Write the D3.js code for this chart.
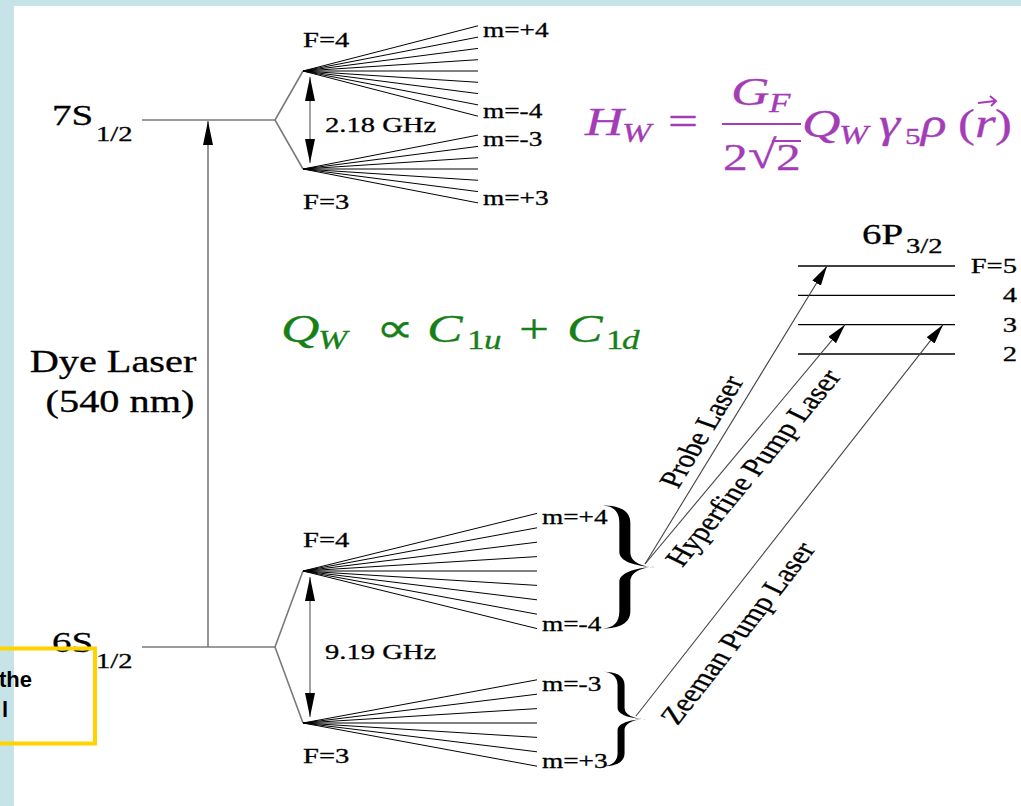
<!DOCTYPE html>
<html>
<head>
<meta charset="utf-8">
<script src="https://cdn.jsdelivr.net/npm/d3@7"></script>
<style>
  body { margin: 0; background: #fff; }
  svg { display: block; }
</style>
</head>
<body>
<svg id="chart" width="1021" height="806"></svg>
<script>
// level data
var stateNames = ["7S", "6S"];
var stateSubs = ["1/2", "1/2"];
var hfsSplit = ["2.18 GHz", "9.19 GHz"];
var mF4 = [4, 3, 2, 1, 0, -1, -2, -3, -4];
var mF3 = [-3, -2, -1, 0, 1, 2, 3];
var pF = [5, 4, 3, 2];
var laserNames = ["Probe Laser", "Hyperfine Pump Laser", "Zeeman Pump Laser"];
var laserFromF = [4, 4, 3];
var laserToF = [5, 3, 3];

var SX = 1.3; // picture is stretched sideways
var serif = "Liberation Serif, Times New Roman, serif";
var purple = "#a33cb6", green = "#177f17";

var svg = d3.select("#chart");

// scales
var yState = d3.scaleOrdinal().domain(stateNames).range([120, 647]);
var hfOffset = d3.scaleOrdinal().domain(stateNames).range([49, 76]);
var mStep = d3.scaleOrdinal().domain(stateNames).range([11.3, 14.4]);
var fanEnd = d3.scaleOrdinal().domain(stateNames).range([478, 537]);
var yP = d3.scalePoint().domain(pF).range([266, 354]);
var xLaserEnd = d3.scaleOrdinal().domain(laserNames).range([827, 845, 943]);

// frame
svg.append("rect").attr("width", 1021).attr("height", 806).attr("fill", "#fff");
svg.append("rect").attr("width", 1021).attr("height", 6).attr("fill", "#c6e4e8");
svg.append("rect").attr("width", 14).attr("height", 806).attr("fill", "#c6e4e8");

var defs = svg.append("defs");
function marker(id, len, half) {
  defs.append("marker")
    .attr("id", id)
    .attr("viewBox", "0 " + (-half) + " " + len + " " + (2 * half))
    .attr("refX", len).attr("refY", 0)
    .attr("markerWidth", len).attr("markerHeight", 2 * half)
    .attr("markerUnits", "userSpaceOnUse")
    .attr("orient", "auto-start-reverse")
    .append("path")
    .attr("d", "M0," + (-half) + "L" + len + ",0L0," + half + "Z")
    .attr("fill", "#000");
}
marker("big", 24, 5);
marker("small", 20, 5);

function label(s, x, y, size, opts) {
  opts = opts || {};
  var sx = opts.flat ? 1 : SX;
  var t = svg.append("text")
    .attr("transform", "translate(" + x + "," + y + ") scale(" + sx + ",1)" + (opts.rot ? " rotate(" + opts.rot + ")" : ""))
    .attr("font-family", opts.family || serif)
    .attr("font-size", size)
    .attr("fill", opts.fill || "#000")
    .text(s);
  if (!opts.flat) t.attr("stroke", opts.fill || "#000").attr("stroke-width", 0.3);
  if (opts.italic) t.attr("font-style", "italic");
  if (opts.anchor) t.attr("text-anchor", opts.anchor);
  if (opts.dy) t.attr("dy", opts.dy);
  if (opts.weight) t.attr("font-weight", opts.weight);
  return t;
}

function mText(m) { return m > 0 ? "m=+" + m : "m=" + m; }

// S levels with hyperfine and Zeeman fans
var fanEnds = {};
stateNames.forEach(function (s, i) {
  var y = yState(s), off = hfOffset(s);
  svg.append("line").attr("x1", 142).attr("x2", 275).attr("y1", y).attr("y2", y)
    .attr("stroke", "#7a7a7a").attr("stroke-width", 1.6);
  svg.append("path").attr("d", "M303," + (y - off) + "L275," + y + "L303," + (y + off))
    .attr("fill", "none").attr("stroke", "#7a7a7a").attr("stroke-width", 1.6);
  label(s, 52, y + 5, 30);
  label(stateSubs[i], 96, y + 21, 22);

  [[4, mF4, -1], [3, mF3, 1]].forEach(function (f) {
    var oy = y + f[2] * off;
    var ends = f[1].map(function (m) { return oy + f[2] * m * mStep(s); });
    fanEnds[s + f[0]] = ends;
    svg.append("g").selectAll("line").data(ends).enter().append("line")
      .attr("x1", 303).attr("y1", oy)
      .attr("x2", fanEnd(s)).attr("y2", function (d) { return d; })
      .attr("stroke", "#000").attr("stroke-width", 1);
    label("F=" + f[0], 303, f[0] === 4 ? oy - 24 : oy + 40, 22);
    var ms = f[1];
    label(mText(ms[0]), fanEnd(s) + 5, ends[0] + 11, 21);
    label(mText(ms[ms.length - 1]), fanEnd(s) + 5, ends[ends.length - 1] + 2, 21);
  });

  svg.append("line").attr("x1", 310).attr("x2", 310)
    .attr("y1", y - off + 6).attr("y2", y + off - 6)
    .attr("stroke", "#8a8a8a").attr("stroke-width", 1.6)
    .attr("marker-start", "url(#big)").attr("marker-end", "url(#big)");
  label(hfsSplit[i], 325, y + 12, 22);
});

// dye laser
svg.append("line").attr("x1", 208).attr("x2", 208)
  .attr("y1", yState("6S")).attr("y2", yState("7S") + 1)
  .attr("stroke", "#7a7a7a").attr("stroke-width", 1.6)
  .attr("marker-end", "url(#big)");
label("Dye Laser", 113, 372, 31, { anchor: "middle" });
label("(540 nm)", 120, 412, 31, { anchor: "middle" });

// 6P levels
svg.append("g").selectAll("line").data(pF).enter().append("line")
  .attr("x1", 798).attr("x2", 955)
  .attr("y1", function (d) { return yP(d); }).attr("y2", function (d) { return yP(d); })
  .attr("stroke", "#000").attr("stroke-width", 1.3);
pF.forEach(function (f, i) {
  label(i === 0 ? "F=" + f : String(f), 1017, yP(f) + 7, 22, { anchor: "end" });
});
label("6P", 862, 244, 30);
label("3/2", 906, 253, 22);

// braces
function bracePath(x, y0, y1, w, t) {
  var h = y1 - y0, m = (y0 + y1) / 2, c = x + w * 0.42;
  var r = c + t / 2, l = c - t / 2, tip = x + w;
  return [
    "M" + x + "," + y0,
    "C" + (x + w * 0.3) + "," + y0 + " " + r + "," + (y0 + h * 0.04) + " " + r + "," + (y0 + h * 0.14),
    "L" + r + "," + (m - h * 0.12),
    "C" + r + "," + (m - h * 0.03) + " " + (x + w * 0.8) + "," + m + " " + tip + "," + m,
    "C" + (x + w * 0.8) + "," + m + " " + r + "," + (m + h * 0.03) + " " + r + "," + (m + h * 0.12),
    "L" + r + "," + (y1 - h * 0.14),
    "C" + r + "," + (y1 - h * 0.04) + " " + (x + w * 0.3) + "," + y1 + " " + x + "," + y1,
    "C" + (x + w * 0.2) + "," + (y1 - h * 0.005) + " " + l + "," + (y1 - h * 0.05) + " " + l + "," + (y1 - h * 0.14),
    "L" + l + "," + (m + h * 0.12),
    "C" + l + "," + (m + h * 0.05) + " " + (x + w * 0.6) + "," + (m + h * 0.005) + " " + tip + "," + m,
    "C" + (x + w * 0.6) + "," + (m - h * 0.005) + " " + l + "," + (m - h * 0.05) + " " + l + "," + (m - h * 0.12),
    "L" + l + "," + (y0 + h * 0.14),
    "C" + l + "," + (y0 + h * 0.05) + " " + (x + w * 0.2) + "," + (y0 + h * 0.005) + " " + x + "," + y0,
    "Z"
  ].join(" ");
}
var braceTip = {};
[[4, 52, 11], [3, 43, 7]].forEach(function (b) {
  var ends = fanEnds["6S" + b[0]];
  var y0 = ends[0] - 8, y1 = ends[ends.length - 1];
  svg.append("path").attr("d", bracePath(603, y0, y1, b[1], b[2])).attr("fill", "#000");
  braceTip[b[0]] = [603 + b[1] - 10, (y0 + y1) / 2 - 3];
});

// lasers to 6P
var laserLab = [
  { t: 0.42, anchor: "middle", dy: "-0.35em" },
  { t: 0.0, anchor: "start", dy: "1.05em", dx: 12 },
  { t: 0.0, anchor: "start", dy: "1.3em", dx: 8 }
];
laserNames.forEach(function (name, i) {
  var p0 = braceTip[laserFromF[i]];
  var p1 = [xLaserEnd(name), yP(laserToF[i])];
  svg.append("line").attr("x1", p0[0]).attr("y1", p0[1]).attr("x2", p1[0]).attr("y2", p1[1])
    .attr("stroke", "#444").attr("stroke-width", 1.1)
    .attr("marker-end", "url(#small)");
  var a = Math.atan2(p0[1] - p1[1], (p1[0] - p0[0]) / SX) * 180 / Math.PI;
  var o = laserLab[i];
  var px = p0[0] + o.t * (p1[0] - p0[0]), py = p0[1] + o.t * (p1[1] - p0[1]);
  var t = label(name, px, py, 25, { rot: -a, anchor: o.anchor, dy: o.dy });
  if (o.dx) t.attr("dx", o.dx);
});

// formulas
function formula(parts, color) {
  parts.forEach(function (p) {
    label(p[0], p[1], p[2], p[3], { italic: p[4], fill: color });
  });
}
formula([
  ["H", 585, 135, 41, true], ["W", 622, 142, 27, true], ["=", 668, 135, 41, false],
  ["G", 731, 105, 41, true], ["F", 769, 112, 27, true],
  ["2", 723, 170, 38, false], ["\u221A", 748, 168, 40, false], ["2", 776, 170, 38, false],
  ["Q", 802, 137, 41, true], ["W", 839, 144, 27, true],
  ["\u03B3", 879, 137, 41, true], ["5", 905, 144, 24, false],
  ["\u03C1", 921, 137, 41, true], ["(", 958, 137, 39, false],
  ["r", 975, 137, 41, true], [")", 995, 137, 39, false]
], purple);
svg.append("line").attr("x1", 722).attr("x2", 801).attr("y1", 124).attr("y2", 124)
  .attr("stroke", purple).attr("stroke-width", 2.2);
svg.append("line").attr("x1", 772).attr("x2", 801).attr("y1", 141).attr("y2", 141)
  .attr("stroke", purple).attr("stroke-width", 2);
svg.append("path").attr("d", "M978,103L995,101M990,96L996,101L991,106")
  .attr("fill", "none").attr("stroke", purple).attr("stroke-width", 2);

formula([
  ["Q", 281, 342, 41, true], ["W", 318, 349, 27, true], ["\u221D", 376, 342, 41, false],
  ["C", 427, 342, 41, true], ["1", 467, 349, 27, false], ["u", 484, 349, 27, true],
  ["+", 519, 342, 41, false],
  ["C", 567, 342, 41, true], ["1", 606, 349, 27, false], ["d", 622, 349, 27, true]
], green);

// yellow callout box, cut at the left edge
var sans = "Liberation Sans, Arial, sans-serif";
label("the", 32, 687, 22, { family: sans, weight: "bold", anchor: "end", flat: true });
label("l", 8, 717, 22, { family: sans, weight: "bold", anchor: "end", flat: true });
svg.append("rect").attr("x", -20).attr("y", 648.5).attr("width", 115).attr("height", 95)
  .attr("fill", "none").attr("stroke", "#ffd300").attr("stroke-width", 4);
</script>
</body>
</html>
